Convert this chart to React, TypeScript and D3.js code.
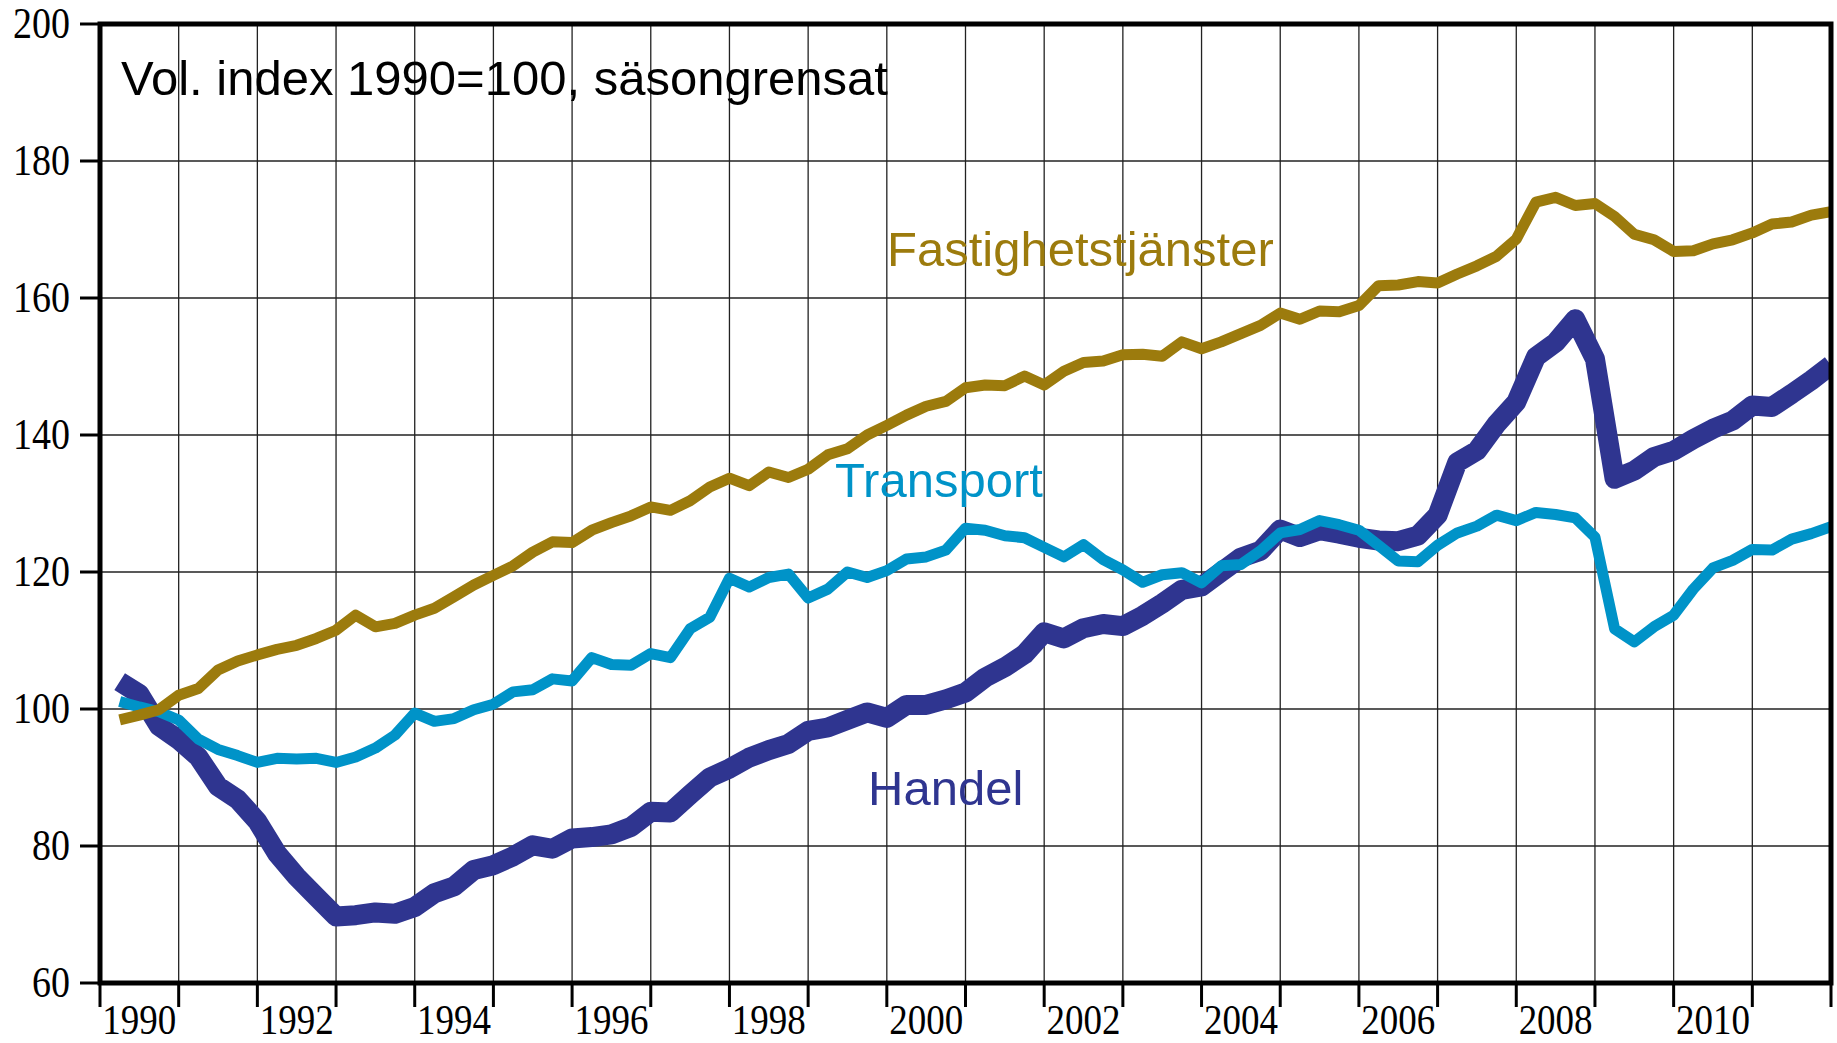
import * as d3 from "d3";
import React from "react";

// quarterly volume index, 1990Q1 .. 2011Q4
const startYear = 1990;
const endYear = 2012;

const handel = [
  104.0, 102.2, 97.5, 95.5,
  93.0, 88.7, 86.8, 83.6,
  78.9, 75.5, 72.6, 69.7,
  69.9, 70.3, 70.1, 71.1,
  73.1, 74.1, 76.5, 77.2,
  78.5, 80.1, 79.6, 81.1,
  81.3, 81.7, 82.8, 85.0,
  84.9, 87.5, 90.0, 91.3,
  92.9, 94.0, 94.9, 96.8,
  97.3, 98.4, 99.5, 98.7,
  100.6, 100.6, 101.4, 102.4,
  104.6, 106.1, 108.0, 111.2,
  110.3, 111.8, 112.4, 112.1,
  113.6, 115.4, 117.4, 117.9,
  120.0, 122.1, 123.1, 126.2,
  125.1, 126.1, 125.6, 125.0,
  124.6, 124.5, 125.3, 128.3,
  136.0, 137.7, 141.6, 144.8,
  151.4, 153.5, 156.9, 151.1,
  133.6, 134.8, 136.8, 137.7,
  139.4, 140.9, 142.1, 144.3,
  144.1, 146.0, 148.0, 150.2,
];

const transport = [
  101.1, 100.3, 99.6, 98.4,
  95.6, 94.1, 93.2, 92.2,
  92.8, 92.7, 92.8, 92.2,
  93.0, 94.3, 96.2, 99.4,
  98.2, 98.6, 99.9, 100.7,
  102.5, 102.8, 104.4, 104.1,
  107.5, 106.5, 106.4, 108.1,
  107.5, 111.7, 113.4, 119.1,
  117.8, 119.2, 119.7, 116.2,
  117.5, 120.0, 119.2, 120.2,
  121.9, 122.2, 123.2, 126.4,
  126.1, 125.3, 125.0, 123.6,
  122.2, 124.0, 121.8, 120.3,
  118.5, 119.6, 119.9, 118.4,
  120.9, 121.1, 123.1, 125.7,
  126.2, 127.5, 126.9, 126.1,
  123.9, 121.6, 121.5, 123.9,
  125.7, 126.7, 128.3, 127.5,
  128.7, 128.4, 127.9, 125.1,
  111.7, 109.8, 112.0, 113.7,
  117.5, 120.6, 121.7, 123.3,
  123.2, 124.8, 125.6, 126.6,
];

const fastighet = [
  98.4, 99.1, 99.9, 102.0,
  103.0, 105.7, 107.0, 107.9,
  108.7, 109.3, 110.3, 111.5,
  113.7, 112.0, 112.5, 113.7,
  114.7, 116.4, 118.1, 119.5,
  120.9, 122.9, 124.4, 124.3,
  126.1, 127.2, 128.2, 129.5,
  129.0, 130.4, 132.4, 133.7,
  132.6, 134.6, 133.8, 135.0,
  137.1, 138.0, 140.0, 141.4,
  142.9, 144.2, 144.9, 146.9,
  147.3, 147.2, 148.6, 147.3,
  149.3, 150.6, 150.8, 151.7,
  151.8, 151.5, 153.6, 152.6,
  153.6, 154.8, 156.0, 157.8,
  156.9, 158.1, 158.0, 158.9,
  161.8, 161.9, 162.4, 162.2,
  163.5, 164.7, 166.1, 168.6,
  174.0, 174.7, 173.5, 173.8,
  171.9, 169.3, 168.5, 166.8,
  166.9, 167.9, 168.5, 169.5,
  170.8, 171.1, 172.1, 172.6,
];

const yTicks = [60, 80, 100, 120, 140, 160, 180, 200];
const yearLabels = [1990, 1992, 1994, 1996, 1998, 2000, 2002, 2004, 2006, 2008, 2010];
const title = "Vol. index 1990=100, säsongrensat";

const series = [
  { name: "Handel", values: handel, color: "#2f3590", width: 20, lx: 868, ly: 805 },
  { name: "Transport", values: transport, color: "#0093c8", width: 11, lx: 835, ly: 497 },
  { name: "Fastighetstjänster", values: fastighet, color: "#9c7b0d", width: 11, lx: 887, ly: 266 },
];

const W = 1837;
const H = 1043;
const margin = { top: 24, right: 6, bottom: 60, left: 100 };

export default function App() {
  const x = d3.scaleLinear().domain([startYear, endYear]).range([margin.left, W - margin.right]);
  const y = d3.scaleLinear().domain([60, 200]).range([H - margin.bottom, margin.top]);

  const line = d3
    .line<number>()
    .x((d, i) => x(startYear + (i + 1) / 4))
    .y((d) => y(d));

  const years = d3.range(startYear, endYear + 1);
  const serif = "'Liberation Serif', 'Times New Roman', serif";
  const sans = "'Liberation Sans', Arial, sans-serif";
  const x0 = x(startYear);
  const x1 = x(endYear);
  const y0 = y(60);
  const y1 = y(200);

  return (
    <div style={{ position: "absolute", left: 0, top: 0 }}>
      <svg width={W} height={H} style={{ display: "block", background: "#fff" }}>
        <defs>
          <clipPath id="plot">
            <rect x={x0} y={y1} width={x1 - x0} height={y0 - y1} />
          </clipPath>
        </defs>

        {/* grid */}
        <g stroke="#222" strokeWidth={1.3}>
          {years.slice(1, -1).map((yr) => (
            <line key={yr} x1={x(yr)} x2={x(yr)} y1={y1} y2={y0} />
          ))}
          {yTicks.slice(1, -1).map((v) => (
            <line key={v} x1={x0} x2={x1} y1={y(v)} y2={y(v)} />
          ))}
        </g>

        {/* ticks */}
        <g stroke="#000" strokeWidth={3}>
          {yTicks.map((v) => (
            <line key={v} x1={x0 - 20} x2={x0} y1={y(v)} y2={y(v)} />
          ))}
          {years.map((yr) => (
            <line key={yr} x1={x(yr)} x2={x(yr)} y1={y0} y2={y0 + 24} />
          ))}
        </g>

        {/* series */}
        <g clipPath="url(#plot)" fill="none" strokeLinejoin="round" strokeLinecap="butt">
          {series.map((s) => (
            <path key={s.name} d={line(s.values) || ""} stroke={s.color} strokeWidth={s.width} />
          ))}
        </g>

        {/* frame */}
        <rect x={x0} y={y1} width={x1 - x0} height={y0 - y1} fill="none" stroke="#000" strokeWidth={5} />

        {/* y labels */}
        {yTicks.map((v) => (
          <text
            key={v}
            transform={`translate(70,${y(v) + 14}) scale(1,1.15)`}
            textAnchor="end"
            fontFamily={serif}
            fontSize={38}
          >
            {v}
          </text>
        ))}

        {/* x labels */}
        {yearLabels.map((yr) => (
          <text
            key={yr}
            transform={`translate(${x(yr + 0.5)},${y0 + 51}) scale(1,1.15)`}
            textAnchor="middle"
            fontFamily={serif}
            fontSize={37}
          >
            {yr}
          </text>
        ))}

        <text x={121} y={95} fontFamily={sans} fontSize={49} fill="#000">
          {title}
        </text>

        {series.map((s) => (
          <text key={s.name} x={s.lx} y={s.ly} fontFamily={sans} fontSize={49} fill={s.color}>
            {s.name}
          </text>
        ))}
      </svg>
    </div>
  );
}
